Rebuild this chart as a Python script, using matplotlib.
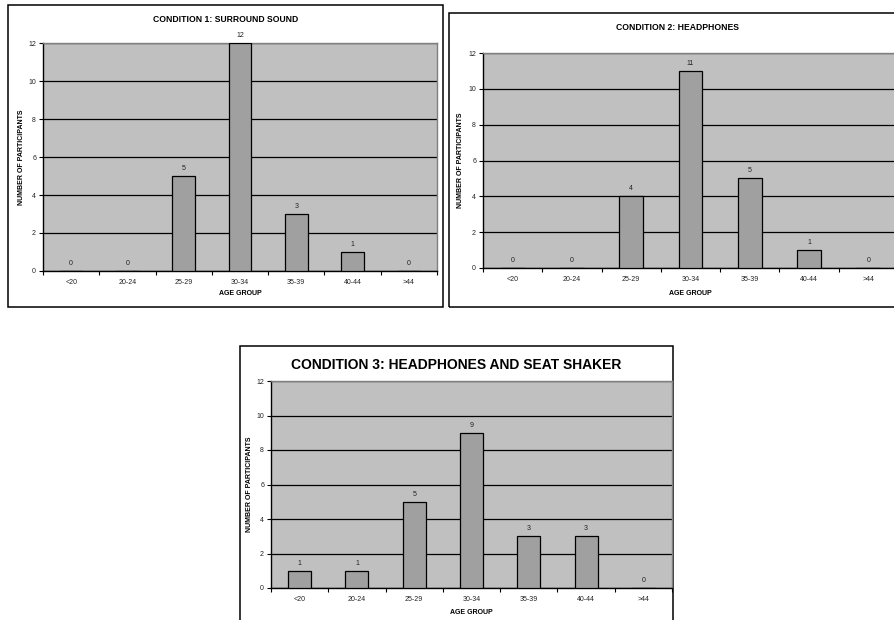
import matplotlib
matplotlib.use("Agg")
import matplotlib.pyplot as plt
from matplotlib.patches import Rectangle

plt.rcParams['font.family'] = ['Liberation Sans', 'DejaVu Sans']

age_groups = ["<20", "20-24", "25-29", "30-34", "35-39", "40-44", ">44"]
surround_sound = [0, 0, 5, 12, 3, 1, 0]
headphones = [0, 0, 4, 11, 5, 1, 0]
headphones_shaker = [1, 1, 5, 9, 3, 3, 0]
y_ticks = [0, 2, 4, 6, 8, 10, 12]

W, H = 895, 620
fig = plt.figure(figsize=(W / 100, H / 100), dpi=100)
fig.patch.set_facecolor("white")


def frame(l, t, r, b):
    fig.add_artist(Rectangle((l / W, 1 - b / H), (r - l) / W, (b - t) / H,
                             transform=fig.transFigure, fill=False,
                             edgecolor="black", lw=1.1, zorder=0))


def panel(box, plot, values, title, title_y, title_size, ylab_x, xlab_y):
    l, t, r, b = plot
    frame(*box)
    ax = fig.add_axes([l / W, 1 - b / H, (r - l) / W, (b - t) / H])
    ax.set_facecolor("#C0C0C0")
    x = list(range(len(age_groups)))
    ax.bar(x, values, width=0.4, color="#A0A0A0", edgecolor="black",
           lw=0.9, zorder=3)
    for xi, v in zip(x, values):
        ax.annotate(str(v), (xi, v), xytext=(0, 3), textcoords="offset points",
                    ha="center", va="bottom", fontsize=5, color="#222222")
    ax.set_xlim(-0.5, len(age_groups) - 0.5)
    ax.set_ylim(0, 12)
    ax.set_yticks(y_ticks)
    ax.set_yticklabels([str(v) for v in y_ticks], fontsize=5, color="#222222")
    ax.yaxis.grid(True, color="black", lw=0.9, zorder=1)
    ax.set_axisbelow(True)
    # boundary ticks between categories, labels at category centres
    ax.set_xticks([i - 0.5 for i in range(len(age_groups) + 1)])
    ax.set_xticklabels([])
    ax.set_xticks(x, minor=True)
    ax.set_xticklabels(age_groups, minor=True, fontsize=5, color="#222222")
    ax.tick_params(axis="x", which="major", length=3, width=0.8, direction="out")
    ax.tick_params(axis="x", which="minor", length=0, pad=6)
    ax.tick_params(axis="y", length=3, width=0.8, pad=2)
    for side in ("top", "right"):
        ax.spines[side].set_color("#808080")
        ax.spines[side].set_linewidth(1.0)
    for side in ("left", "bottom"):
        ax.spines[side].set_color("black")
        ax.spines[side].set_linewidth(1.0)
    cx = (box[0] + box[2]) / 2
    fig.text(cx / W, 1 - title_y / H, title, ha="center", va="center",
             fontsize=title_size, fontweight="bold")
    fig.text((l + r) / 2 / W, 1 - xlab_y / H, "AGE GROUP", ha="center",
             va="center", fontsize=5, fontweight="bold")
    fig.text(ylab_x / W, 1 - (t + b) / 2 / H, "NUMBER OF PARTICIPANTS",
             ha="center", va="center", rotation=90, fontsize=5,
             fontweight="bold")
    return ax


panel((8, 5, 443, 307), (43, 43, 437, 271), surround_sound,
      "CONDITION 1: SURROUND SOUND", 19, 6.2, 22, 293)
panel((449, 13, 905, 307), (483, 53, 898, 268), headphones,
      "CONDITION 2: HEADPHONES", 27, 6.2, 461, 294)
panel((240, 346, 673, 640), (271, 381, 672, 588), headphones_shaker,
      "CONDITION 3: HEADPHONES AND SEAT SHAKER", 365, 10, 250, 613)

fig.savefig("out.png", dpi=100, facecolor="white")
